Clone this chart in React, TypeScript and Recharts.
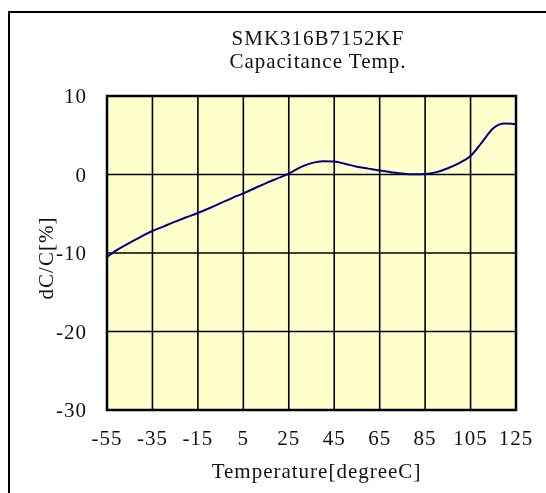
import React from 'react';
import {
  LineChart,
  Line,
  XAxis,
  YAxis,
  CartesianGrid,
  ReferenceArea,
  Label,
} from 'recharts';

// Temperature characteristic (degC -> dC/C %)
const temps = [
  -55, -50, -45, -40, -35, -30, -25, -20, -15, -10, -5, 0, 5, 10, 15, 20, 25,
  30, 35, 40, 45, 50, 55, 60, 65, 70, 75, 80, 85, 90, 95, 100, 105, 110, 115,
  120, 125,
];
const dcValues = [
  -10.5, -9.5, -8.7, -7.9, -7.2, -6.6, -6.0, -5.45, -4.9, -4.3, -3.65, -3.0,
  -2.4, -1.75, -1.1, -0.5, 0.1, 0.9, 1.45, 1.7, 1.65, 1.35, 1.0, 0.75, 0.5,
  0.3, 0.12, 0.02, 0.05, 0.3, 0.8, 1.45, 2.35, 4.1, 5.9, 6.5, 6.4,
];
const xTicks = [-55, -35, -15, 5, 25, 45, 65, 85, 105, 125];
const yTicks = [-30, -20, -10, 0, 10];

const titleLines = ['SMK316B7152KF', 'Capacitance Temp.'];
const xTitle = 'Temperature[degreeC]';
const yTitle = 'dC/C[%]';

const data = temps.map((t, i) => ({ t, v: dcValues[i] }));

const FONT = '"Liberation Serif", "Times New Roman", serif';
const textStyle = { fontFamily: FONT, fontSize: 21, letterSpacing: 1, fill: '#111' };

export default function App() {
  return (
    <div>
      {/* outer frame, cut off at right/bottom like the reference */}
      <div
        style={{
          position: 'fixed',
          left: 8,
          top: 11,
          width: 560,
          height: 500,
          borderTop: '2px solid #000',
          borderLeft: '2px solid #000',
        }}
      />
      <div
        style={{
          position: 'fixed',
          left: 0,
          top: 27,
          width: 636,
          textAlign: 'center',
          fontFamily: FONT,
          fontSize: 21,
          letterSpacing: 1,
          lineHeight: '23px',
          color: '#111',
        }}
      >
        {titleLines.map((l) => (
          <div key={l}>{l}</div>
        ))}
      </div>
      <div style={{ position: 'fixed', left: 0, top: 0 }}>
        <LineChart
          width={546}
          height={493}
          data={data}
          margin={{ top: 96, right: 30, left: 47, bottom: 53 }}
        >
          <CartesianGrid
            fill="#FFFFCC"
            fillOpacity={1}
            stroke="#000"
            strokeWidth={1.6}
          />
          <XAxis
            dataKey="t"
            type="number"
            domain={[-55, 125]}
            ticks={xTicks}
            height={30}
            axisLine={false}
            tickLine={false}
            tickSize={0}
            tickMargin={20}
            tick={textStyle}
            interval={0}
          >
            <Label
              content={({ viewBox }: any) => (
                <text
                  x={viewBox.x + viewBox.width / 2 + 5}
                  y={478}
                  textAnchor="middle"
                  style={textStyle}
                >
                  {xTitle}
                </text>
              )}
            />
          </XAxis>
          <YAxis
            type="number"
            domain={[-30, 10]}
            ticks={yTicks}
            width={60}
            axisLine={false}
            tickLine={false}
            tickSize={0}
            tickMargin={20}
            tick={textStyle}
            interval={0}
          >
            <Label
              content={() => (
                <text
                  x={46}
                  y={258}
                  transform="rotate(-90, 46, 258)"
                  textAnchor="middle"
                  dominantBaseline="central"
                  style={textStyle}
                >
                  {yTitle}
                </text>
              )}
            />
          </YAxis>
          <ReferenceArea
            x1={-55}
            x2={125}
            y1={-30}
            y2={10}
            fill="none"
            stroke="#000"
            strokeWidth={2.5}
            ifOverflow="visible"
          />
          <Line
            type="monotone"
            dataKey="v"
            stroke="#000080"
            strokeWidth={2}
            dot={false}
            isAnimationActive={false}
          />
        </LineChart>
      </div>
    </div>
  );
}
